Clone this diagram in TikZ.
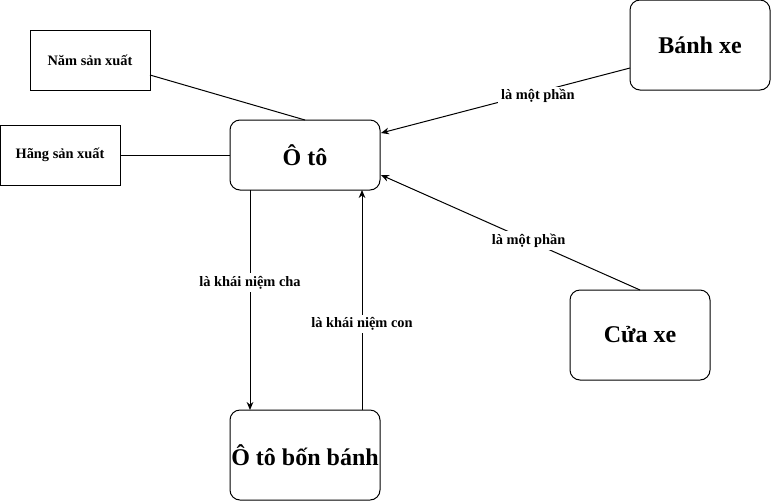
\documentclass[tikz,border=0pt]{standalone}
\usepackage{fontspec}
\setmainfont{Liberation Serif}
\usetikzlibrary{arrows.meta}
\begin{document}
\begin{tikzpicture}[x=0.75pt,y=-0.75pt,
  sqbox/.style={draw,line width=0.75pt,minimum width=90pt,minimum height=45pt,inner sep=0pt,font=\fontsize{10.8}{13}\selectfont\bfseries},
  rbox/.style={draw,line width=0.75pt,rounded corners=7.5pt,inner sep=0pt,font=\fontsize{18}{21}\selectfont\bfseries},
  lbl/.style={fill=white,inner sep=2pt,font=\fontsize{10.8}{13}\selectfont\bfseries},
  conn/.style={line width=0.75pt},
  arr/.style={line width=0.75pt,-{Stealth[length=6pt,width=5pt]}}]
\useasboundingbox (0,0) rectangle (771,501);
\node[sqbox] (nam) at (90,60) {Năm sản xuất};
\node[sqbox] (hang) at (60,155) {Hãng sản xuất};
\node[rbox,minimum width=112.5pt,minimum height=52.5pt] (oto) at (305,155) {Ô tô};
\node[rbox,minimum width=105pt,minimum height=67.5pt] (banh) at (700,45) {Bánh xe};
\node[rbox,minimum width=105pt,minimum height=67.5pt] (cua) at (640,335) {Cửa xe};
\node[rbox,minimum width=112.5pt,minimum height=67.5pt] (bon) at (305,455) {Ô tô bốn bánh};
\coordinate (otoN) at (305,120);
\coordinate (namE) at (150,75);
\draw[conn] (namE) -- (otoN);
\draw[conn] (hang.east) -- (oto.west);
\coordinate (banhW) at (630,68);
\coordinate (otoE1) at (381,133);
\draw[arr] (banhW) -- node[lbl,pos=0.37,yshift=-3pt] {là một phần} (otoE1);
\coordinate (cuaN) at (640,290);
\coordinate (otoE2) at (381,175);
\draw[arr] (cuaN) -- node[lbl,pos=0.43] {là một phần} (otoE2);
\coordinate (otoS1) at (250,190);
\coordinate (bonN1) at (250,410);
\draw[arr] (otoS1) -- node[lbl,pos=0.42] {là khái niệm cha} (bonN1);
\coordinate (bonN2) at (362,410);
\coordinate (otoS2) at (362,190);
\draw[arr] (bonN2) -- node[lbl,pos=0.39] {là khái niệm con} (otoS2);
\end{tikzpicture}
\end{document}
